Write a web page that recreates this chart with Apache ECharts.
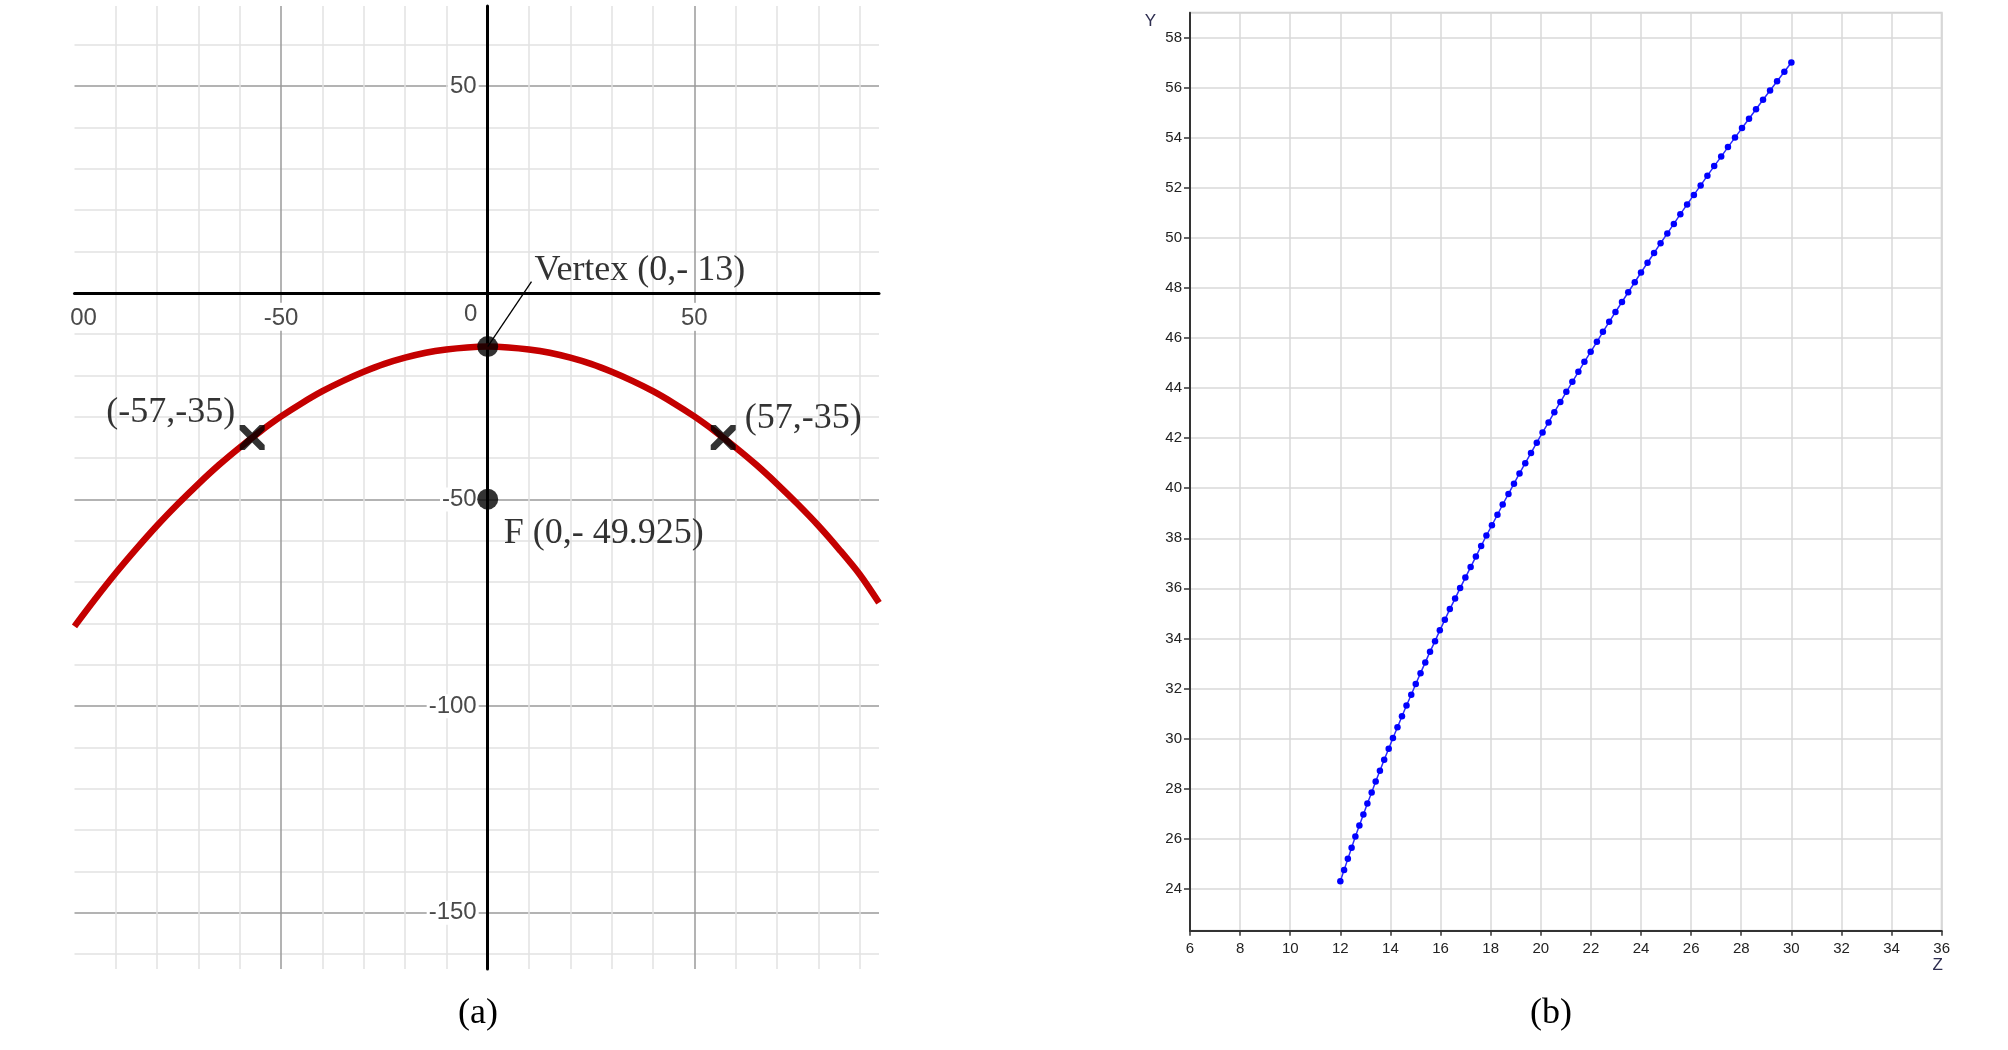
<!DOCTYPE html>
<html><head><meta charset="utf-8">
<script src="https://cdn.jsdelivr.net/npm/echarts@6/dist/echarts.min.js"></script>
<style>html,body{margin:0;padding:0;background:#fff}#c{width:2008px;height:1050px}</style>
</head><body><div id="c"></div>
<script>
// ---------- Panel (a) data ----------
const paraX = [-100,-95,-90,-85,-80,-75,-70,-65,-60,-55,-50,-45,-40,-35,-30,-25,-20,-15,-10,-5,0,5,10,15,20,25,30,35,40,45,50,55,60,65,70,75,80,85,90,94.7];
const paraY = [-80.7,-74.1,-67.8,-61.9,-56.3,-51.1,-46.2,-41.6,-37.4,-33.5,-29.9,-26.7,-23.8,-21.3,-19.1,-17.2,-15.7,-14.5,-13.7,-13.2,-13,-13.2,-13.7,-14.5,-15.7,-17.2,-19.1,-21.3,-23.8,-26.7,-29.9,-33.5,-37.4,-41.6,-46.2,-51.1,-56.3,-62.0,-68.1,-75.0];
const dotX = [0, 0];
const dotY = [-13, -49.925];
const crossX = [-57, 57];
const crossY = [-35, -35];
const annotTexts = ['Vertex (0,- 13)', '(-57,-35)', '(57,-35)', 'F (0,- 49.925)'];
const aXGrid = [-90,-80,-70,-60,-50,-40,-30,-20,-10,0,10,20,30,40,50,60,70,80,90];
const aYGrid = [-160,-150,-140,-130,-120,-110,-100,-90,-80,-70,-60,-50,-40,-30,-20,-10,0,10,20,30,40,50,60];
const aXLabels = [-100,-50,0,50];
const aYLabels = [-150,-100,-50,50];

// ---------- Panel (b) data ----------
const bZ = [12.00,12.15,12.30,12.45,12.60,12.76,12.92,13.08,13.25,13.41,13.58,13.75,13.93,14.10,14.28,14.46,14.64,14.83,15.01,15.20,15.39,15.58,15.78,15.97,16.17,16.37,16.58,16.78,16.99,17.20,17.41,17.62,17.83,18.05,18.27,18.48,18.71,18.93,19.15,19.38,19.61,19.84,20.07,20.31,20.54,20.78,21.02,21.26,21.50,21.74,21.99,22.24,22.48,22.73,22.98,23.24,23.49,23.75,24.00,24.26,24.52,24.78,25.05,25.31,25.57,25.84,26.11,26.38,26.65,26.92,27.20,27.47,27.75,28.03,28.31,28.59,28.87,29.15,29.43,29.72,30.00];
const bY = [24.30,24.75,25.19,25.63,26.08,26.52,26.96,27.40,27.84,28.28,28.71,29.15,29.59,30.02,30.45,30.89,31.32,31.75,32.18,32.61,33.04,33.47,33.89,34.32,34.74,35.17,35.59,36.01,36.43,36.85,37.27,37.69,38.11,38.52,38.94,39.35,39.77,40.18,40.59,41.00,41.41,41.82,42.23,42.63,43.04,43.44,43.85,44.25,44.65,45.05,45.45,45.85,46.25,46.65,47.04,47.44,47.83,48.23,48.62,49.01,49.40,49.79,50.18,50.56,50.95,51.34,51.72,52.10,52.49,52.87,53.25,53.63,54.01,54.39,54.76,55.14,55.52,55.89,56.26,56.64,57.01];
const bXTicks = [6,8,10,12,14,16,18,20,22,24,26,28,30,32,34,36];
const bYTicks = [24,26,28,30,32,34,36,38,40,42,44,46,48,50,52,54,56,58];

// ---------- layout / build ----------
const A = { left: 74.5, top: 6, width: 804.5, height: 963, xMin: -100, xMax: 94.7, yMin: -163.6, yMax: 69.4 };
const B = { left: 1190, top: 12.7, width: 751.7, height: 918, xMin: 6, xMax: 36, yMin: 22.32, yMax: 59 };
// offsets that bring panel (a) axes to the origin
const aXOffset = -A.height * (0 - A.yMin) / (A.yMax - A.yMin);
const aYOffset = -A.width * (0 - A.xMin) / (A.xMax - A.xMin);

const zip = (a, b) => a.map((v, i) => [v, b[i]]);
const MAJOR = '#9a9a9a', MINOR = '#e2e2e2';
const serif = '"Liberation Serif", "Times New Roman", serif';
const sans = '"Liberation Sans", Arial, sans-serif';
const LBL = '#4a4a4a';
const xRich = {
  n: { fontSize: 24, fontFamily: sans, color: LBL, backgroundColor: '#fff', padding: [4, 2, 0, 2] },
  z: { fontSize: 24, fontFamily: sans, color: LBL, padding: [0, 34, 0, 0] },
  c: { fontSize: 24, fontFamily: sans, color: LBL, padding: [4, 0, 0, 18] }
};
const yRich = {
  n: { fontSize: 24, fontFamily: sans, color: LBL, backgroundColor: '#fff', padding: [0, 2] }
};
const crossPath = 'path://M0,0 L4,0 L10,6 L16,0 L20,0 L20,4 L14,10 L20,16 L20,20 L16,20 L10,14 L4,20 L0,20 L0,16 L6,10 L0,4 Z';
const annotPos = [[11.3, 5.3], [-92.3, -29.0], [62.2, -30.3], [3.9, -58.3]];

const option = {
  animation: false,
  backgroundColor: '#fff',
  grid: [
    { left: A.left, top: A.top, width: A.width, height: A.height, show: false },
    { left: B.left, top: B.top, width: B.width, height: B.height, show: true, borderColor: '#d4d4d4', borderWidth: 2 }
  ],
  xAxis: [
    {
      type: 'value', gridIndex: 0, min: A.xMin, max: A.xMax,
      position: 'bottom', offset: aXOffset,
      axisLine: { onZero: false, lineStyle: { color: '#000', width: 3 } },
      axisTick: { show: false, customValues: aXGrid },
      splitLine: { show: true, lineStyle: { color: aXGrid.map(v => v % 50 === 0 ? MAJOR : MINOR), width: 1.5 } },
      axisLabel: {
        customValues: aXLabels, margin: 10, fontSize: 24, fontFamily: sans, color: LBL,
        formatter: v => v === 0 ? '{z|0}' : (v === -100 ? '{c|00}' : '{n|' + v + '}'),
        rich: xRich
      }
    },
    {
      type: 'value', gridIndex: 1, min: B.xMin, max: B.xMax, interval: 2,
      axisLine: { onZero: false, lineStyle: { color: '#333', width: 2 } },
      axisTick: { show: true, length: 5, customValues: bXTicks, lineStyle: { color: '#333', width: 1.5 } },
      splitLine: { show: true, lineStyle: { color: '#d9d9d9', width: 1.5 } },
      axisLabel: { customValues: bXTicks, margin: 11, fontSize: 15, fontFamily: sans, color: '#222' }
    }
  ],
  yAxis: [
    {
      type: 'value', gridIndex: 0, min: A.yMin, max: A.yMax,
      position: 'left', offset: aYOffset,
      axisLine: { onZero: false, lineStyle: { color: '#000', width: 3 } },
      axisTick: { show: false, customValues: aYGrid },
      splitLine: { show: true, lineStyle: { color: aYGrid.map(v => v % 50 === 0 ? MAJOR : MINOR), width: 1.5 } },
      axisLabel: {
        customValues: aYLabels, margin: 9, fontSize: 24, fontFamily: sans, color: LBL,
        formatter: v => '{n|' + v + '}', rich: yRich
      }
    },
    {
      type: 'value', gridIndex: 1, min: B.yMin, max: B.yMax,
      axisLine: { onZero: false, lineStyle: { color: '#333', width: 2 } },
      axisTick: { show: true, length: 6, customValues: bYTicks, lineStyle: { color: '#333', width: 1.5 } },
      splitLine: { show: true, lineStyle: { color: '#d9d9d9', width: 1.5 } },
      axisLabel: { customValues: bYTicks, margin: 8, fontSize: 15, fontFamily: sans, color: '#222' },
      name: 'Y', nameLocation: 'end', nameGap: -9,
      nameTextStyle: { fontSize: 17, fontFamily: sans, color: '#2e2e50', align: 'right', verticalAlign: 'middle', padding: [0, 34, 0, 0] }
    }
  ],
  series: [
    {
      type: 'line', xAxisIndex: 0, yAxisIndex: 0, data: zip(paraX, paraY),
      smooth: 0.3, showSymbol: false, silent: true, z: 3,
      lineStyle: { color: '#c40000', width: 6.5 }
    },
    {
      type: 'line', xAxisIndex: 0, yAxisIndex: 0, data: [[dotX[0], dotY[0]], [10.6, 2.7]],
      showSymbol: false, silent: true, z: 4,
      lineStyle: { color: '#000', width: 1.3 }
    },
    {
      type: 'scatter', xAxisIndex: 0, yAxisIndex: 0, data: zip(dotX, dotY),
      symbol: 'circle', symbolSize: 21, itemStyle: { color: '#000' }, z: 5
    },
    {
      type: 'scatter', xAxisIndex: 0, yAxisIndex: 0, data: zip(crossX, crossY),
      symbol: crossPath, symbolSize: 25, itemStyle: { color: '#000' }, z: 5
    },
    {
      type: 'scatter', xAxisIndex: 0, yAxisIndex: 0,
      data: annotTexts.map((t, i) => ({ value: annotPos[i], name: t })),
      symbolSize: 0, z: 6, silent: true,
      label: {
        show: true, position: 'right', distance: 0,
        formatter: p => p.name,
        fontSize: 36, fontFamily: serif, color: '#000'
      }
    },
    {
      type: 'line', xAxisIndex: 1, yAxisIndex: 1, data: zip(bZ, bY),
      symbol: 'circle', symbolSize: 6.5, showSymbol: true, showAllSymbol: true, z: 4,
      itemStyle: { color: '#0000ff' },
      lineStyle: { color: '#2a2aff', width: 1.5 }
    }
  ],
  graphic: [
    { type: 'text', style: { text: '(a)', x: 478, y: 1014, align: 'center', verticalAlign: 'middle', fontSize: 36, fontFamily: serif, fill: '#000' } },
    { type: 'text', style: { text: '(b)', x: 1551, y: 1014, align: 'center', verticalAlign: 'middle', fontSize: 36, fontFamily: serif, fill: '#000' } },
    { type: 'text', style: { text: 'Z', x: B.left + B.width - 4, y: 965, align: 'center', verticalAlign: 'middle', fontSize: 17, fontFamily: sans, fill: '#2e2e50' } }
  ]
};
const chart = echarts.init(document.getElementById('c'), null, { renderer: 'canvas' });
chart.setOption(option);
</script>
</body></html>
